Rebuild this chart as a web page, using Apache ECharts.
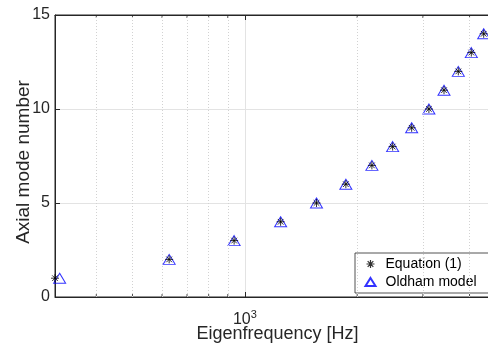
<!DOCTYPE html>
<html>
<head>
<meta charset="utf-8">
<script src="https://cdn.jsdelivr.net/npm/echarts@6/dist/echarts.min.js"></script>
<style>html,body{margin:0;padding:0;background:#fff}#c{width:488px;height:351px}</style>
</head>
<body>
<div id="c"></div>
<script>
const modes = [1, 2, 3, 4, 5, 6, 7, 8, 9, 10, 11, 12, 13, 14];
const freqEquation = [310, 627, 936, 1247, 1556, 1865, 2190, 2489, 2799, 3113, 3417, 3732, 4044, 4365];
const freqOldham = [319, 627, 936, 1247, 1556, 1865, 2190, 2489, 2799, 3113, 3417, 3732, 4044, 4365];
const xMin = 310;
const xMax = 4827;
const yTicks = [0, 5, 10, 15];
const minorX = [400, 500, 600, 700, 800, 900, 2000, 3000, 4000];
const majorX = [1000];

const FONT = 'Liberation Sans, Arial, Helvetica, sans-serif';
const AX = '#262626';
const STAR = 'path://M0,-10L0,10M-10,0L10,0M-7.07,-7.07L7.07,7.07M-7.07,7.07L7.07,-7.07';

const chart = echarts.init(document.getElementById('c'), null, {renderer: 'canvas'});

const tickData = [];
minorX.forEach(v => { tickData.push({value: [v, yTicks[0]], symbolOffset: [0, -1.5]}); tickData.push({value: [v, yTicks[yTicks.length - 1]], symbolOffset: [0, 1.5]}); });

const xCommon = {
  type: 'log', logBase: 10, min: xMin, max: xMax,
  axisLine: {show: true, lineStyle: {color: AX, width: 1}},
  axisTick: {show: true, inside: true, length: 5, lineStyle: {color: AX}},
  splitLine: {show: false},
  minorTick: {show: false}
};

chart.setOption({
  animation: false,
  backgroundColor: '#fff',
  textStyle: {fontFamily: FONT},
  grid: {left: 55, right: -12, top: 15, bottom: 54, containLabel: false, outerBoundsMode: 'none', show: true, borderColor: AX, borderWidth: 1, backgroundColor: 'transparent'},
  legend: {
    orient: 'vertical', left: 355, top: 253,
    padding: [4, 20, 4, 9.5], itemGap: 4, itemWidth: 10, itemHeight: 8,
    backgroundColor: '#fff', borderColor: AX, borderWidth: 0.8, borderRadius: 0,
    textStyle: {fontFamily: FONT, fontSize: 14, color: '#000', padding: [0, 0, 0, 5]},
    data: [
      {name: 'Equation (1)', itemStyle: {borderWidth: 1.2}},
      {name: 'Oldham model'}
    ]
  },
  xAxis: [
    Object.assign({}, xCommon, {
      position: 'bottom',
      name: 'Eigenfrequency [Hz]', nameLocation: 'middle', nameGap: 28, nameMoveOverlap: false,
      nameTextStyle: {fontFamily: FONT, fontSize: 18, color: AX},
      splitLine: {show: true, lineStyle: {color: '#e3e3e3', width: 1}},
      axisLabel: {
        show: true, margin: 12, color: AX, fontFamily: FONT,
        formatter: function (v) { return majorX.some(m => Math.abs(v - m) < 1) ? '{b|10}{s|3}' : ''; },
        rich: {b: {fontSize: 16, color: AX, fontFamily: FONT}, s: {fontSize: 11, color: AX, fontFamily: FONT, padding: [0, 0, 10, 0]}}
      }
    }),
    Object.assign({}, xCommon, {position: 'top', axisLabel: {show: false}})
  ],
  yAxis: {
    type: 'value', min: yTicks[0], max: yTicks[yTicks.length - 1], interval: 5,
    name: 'Axial mode number', nameLocation: 'middle', nameGap: 22, nameMoveOverlap: false,
    nameTextStyle: {fontFamily: FONT, fontSize: 19, color: AX, padding: [0, 12, 0, 0]},
    axisLine: {show: true, lineStyle: {color: AX}},
    axisTick: {show: true, inside: true, length: 5, lineStyle: {color: AX}},
    axisLabel: {margin: 5, fontSize: 16, color: AX, fontFamily: FONT},
    splitLine: {show: true, lineStyle: {color: '#e3e3e3', width: 1}}
  },
  series: [
    {
      name: 'minor', type: 'scatter', xAxisIndex: 0, silent: true, z: 1,
      symbol: 'rect', symbolSize: [1, 3], clip: false,
      itemStyle: {color: AX},
      data: tickData,
      markLine: {
        silent: true, symbol: ['none', 'none'], label: {show: false},
        lineStyle: {color: '#d2d2d2', type: [1, 2], width: 1},
        data: minorX.map(v => ({xAxis: v}))
      }
    },
    {
      name: 'Oldham model', type: 'scatter', z: 3,
      symbol: 'triangle', symbolSize: [12, 10],
      itemStyle: {color: 'rgba(0,0,0,0)', borderColor: '#0000ff', borderWidth: 1},
      data: freqOldham.map((f, i) => [f, modes[i]])
    },
    {
      name: 'Equation (1)', type: 'scatter', z: 4,
      symbol: STAR, symbolSize: 8,
      itemStyle: {color: 'rgba(0,0,0,0)', borderColor: '#000', borderWidth: 1},
      data: freqEquation.map((f, i) => [f, modes[i]])
    }
  ]
});
</script>
</body>
</html>
